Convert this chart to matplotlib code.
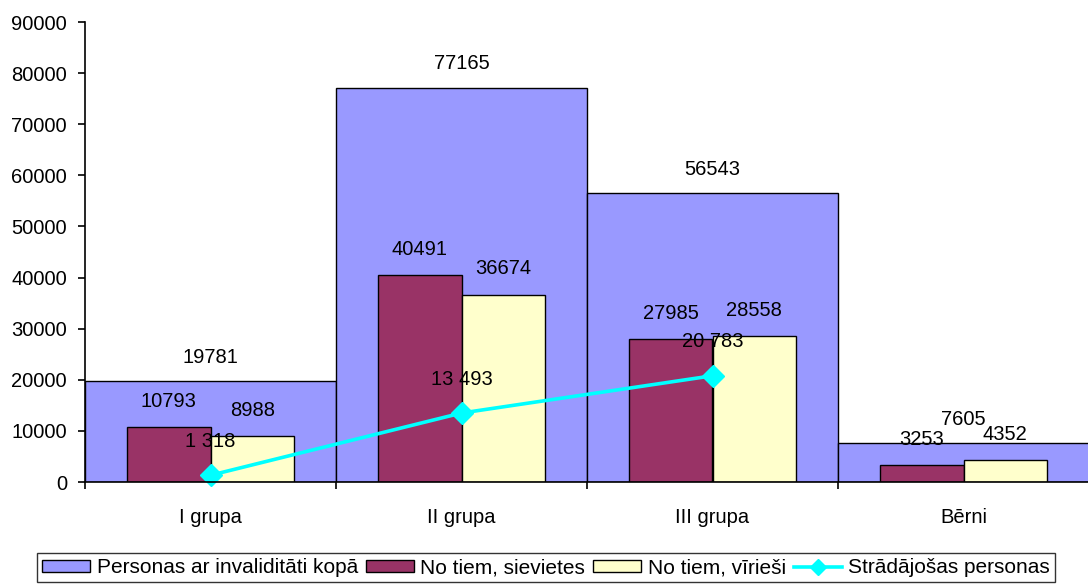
import matplotlib
matplotlib.use("Agg")
import matplotlib.pyplot as plt
import numpy as np
from matplotlib.lines import Line2D
from matplotlib.patches import Patch

plt.rcParams['font.family'] = ['Liberation Sans', 'DejaVu Sans']

categories = ["I grupa", "II grupa", "III grupa", "Bērni"]
total = [19781, 77165, 56543, 7605]
women = [10793, 40491, 27985, 3253]
men = [8988, 36674, 28558, 4352]
working = [1318, 13493, 20783]
working_labels = ["1 318", "13 493", "20 783"]

series_names = ["Personas ar invaliditāti kopā", "No tiem, sievietes",
                "No tiem, vīrieši", "Strādājošas personas"]
c_total = "#9999FF"
c_women = "#993366"
c_men = "#FFFFCC"
c_line = "#00FFFF"

fig = plt.figure(figsize=(10.88, 5.88), dpi=100)
ax = fig.add_axes([85/1088, 1-482/588, 1004/1088, 460/588])

x = np.arange(len(categories))
ax.bar(x, total, width=1.0, color=c_total, edgecolor="black", linewidth=1, zorder=1)
ax.bar(x - 1/6, women, width=1/3, color=c_women, edgecolor="black", linewidth=1, zorder=2)
ax.bar(x + 1/6, men, width=1/3, color=c_men, edgecolor="black", linewidth=1, zorder=2)
xw = x[:len(working)]
ax.plot(xw, working, color=c_line, lw=2.6, marker="D", markersize=11, zorder=4, clip_on=False)

fs = 14.5
for i in range(len(categories)):
    ax.annotate(str(total[i]), (x[i], total[i]), xytext=(0, 17), textcoords="offset points",
                ha="center", va="center", fontsize=fs, zorder=5)
    ax.annotate(str(women[i]), (x[i] - 1/6, women[i]), xytext=(0, 18.5), textcoords="offset points",
                ha="center", va="center", fontsize=fs, zorder=5)
    ax.annotate(str(men[i]), (x[i] + 1/6, men[i]), xytext=(0, 18.5), textcoords="offset points",
                ha="center", va="center", fontsize=fs, zorder=5)
for i in range(len(working)):
    ax.annotate(working_labels[i], (xw[i], working[i]), xytext=(0, 24.5), textcoords="offset points",
                ha="center", va="center", fontsize=fs, zorder=5)

ax.set_xlim(-0.5, len(categories) - 0.5)
ax.set_ylim(0, 90000)
ax.set_yticks(np.arange(0, 90001, 10000))
ax.set_yticklabels([str(v) for v in range(0, 90001, 10000)], fontsize=fs)
ax.set_xticks(np.arange(-0.5, len(categories), 1.0))
ax.set_xticklabels([])
ax.set_xticks(x, minor=True)
ax.set_xticklabels(categories, minor=True, fontsize=fs)
ax.tick_params(axis="x", which="minor", length=0, pad=19)
ax.tick_params(axis="x", which="major", length=5, width=1.2, direction="out")
ax.tick_params(axis="y", length=5, width=1.2, pad=8, direction="out")
for s in ["top", "right"]:
    ax.spines[s].set_visible(False)
for s in ["left", "bottom"]:
    ax.spines[s].set_linewidth(1.2)
    ax.spines[s].set_zorder(6)

handles = [Patch(facecolor=c_total, edgecolor="black", linewidth=1),
           Patch(facecolor=c_women, edgecolor="black", linewidth=1),
           Patch(facecolor=c_men, edgecolor="black", linewidth=1),
           Line2D([0], [0], color=c_line, lw=2.6, marker="D", markersize=8)]
leg = fig.legend(handles, series_names, loc="upper center", bbox_to_anchor=(0.502, 1-553/588),
                 ncol=4, fontsize=15, frameon=True, fancybox=False, edgecolor="black",
                 handlelength=2.3, handleheight=0.5, handletextpad=0.3, columnspacing=0.4,
                 borderpad=0.25, borderaxespad=0)
leg.get_frame().set_linewidth(1)

fig.savefig("out.png", dpi=100)
